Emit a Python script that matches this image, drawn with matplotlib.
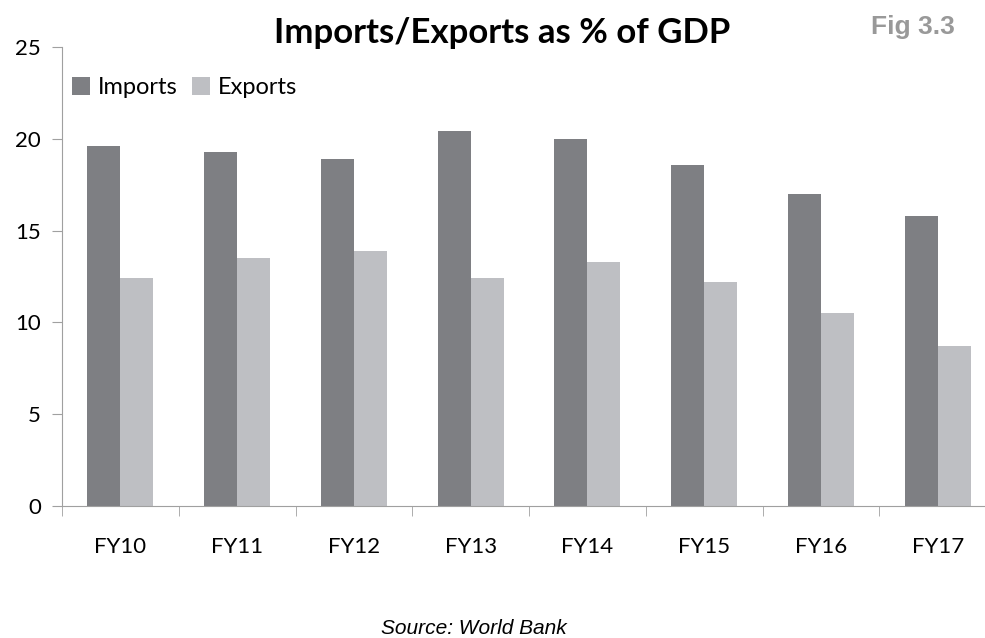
import numpy as np
import matplotlib.pyplot as plt

years = ['FY10', 'FY11', 'FY12', 'FY13', 'FY14', 'FY15', 'FY16', 'FY17']
imports = [19.6, 19.3, 18.9, 20.4, 20.0, 18.6, 17.0, 15.8]
exports = [12.4, 13.5, 13.9, 12.4, 13.3, 12.2, 10.5, 8.7]

plt.rcParams['font.family'] = ['Lato', 'DejaVu Sans']

fig = plt.figure(figsize=(9.85, 6.38), dpi=100)
ax = fig.add_axes([62/985, 1-506/638, 934/985, 459/638])

x = np.arange(len(years))
w = 0.283
ax.bar(x - w/2, imports, w, color='#7e7f83', label='Imports')
ax.bar(x + w/2, exports, w, color='#bebfc3', label='Exports')

ax.set_xlim(-0.5, 7.5)
ax.set_ylim(0, 25)
ax.set_yticks([0, 5, 10, 15, 20, 25])
ax.set_xticks(x)
ax.set_xticklabels(years)
# category separator ticks
ax.set_xticks(np.arange(-0.5, 8, 1), minor=True)
ax.tick_params(axis='x', which='major', length=0, pad=22, labelsize=16)
ax.tick_params(axis='x', which='minor', length=7, color='#a0a0a0', direction='out')
ax.tick_params(axis='y', length=7, color='#a0a0a0', labelsize=16, pad=8)

for s in ['top', 'right']:
    ax.spines[s].set_visible(False)
ax.spines['left'].set_color('#a0a0a0')
ax.spines['bottom'].set_color('#a0a0a0')

ax.legend(loc='center left', bbox_to_anchor=(0.011, 0.911), ncol=2, frameon=False,
          fontsize=17, handlelength=0.75, handleheight=0.75, handletextpad=0.35,
          columnspacing=0.6, borderaxespad=0, borderpad=0)

fig.text(502/985, 1-33/638, 'Imports/Exports as % of GDP', ha='center', va='center',
         fontsize=25, fontweight='bold')
fig.text(913/985, 1-27/638, 'Fig 3.3', ha='center', va='center', fontsize=19,
         fontweight='bold', color='#999999', family='Liberation Sans')
fig.text(474/985, 1-628/638, 'Source: World Bank', ha='center', va='center',
         fontsize=15, style='italic', family='Liberation Sans')

fig.savefig('out.png', dpi=100)
